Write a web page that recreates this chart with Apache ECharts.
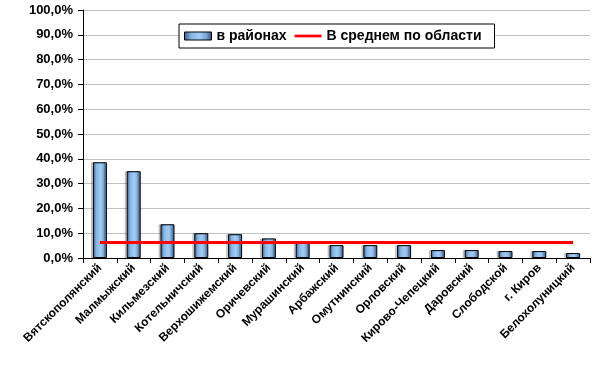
<!DOCTYPE html>
<html><head><meta charset="utf-8">
<script src="https://cdn.jsdelivr.net/npm/echarts@6/dist/echarts.min.js"></script>
<style>html,body{margin:0;padding:0;background:#fff}#c{width:607px;height:374px}</style>
</head><body><div id="c"></div>
<script>
var categories = ['Вятскополянский','Малмыжский','Кильмезский','Котельничский','Верхошижемский','Оричевский','Мурашинский','Арбажский','Омутнинский','Орловский','Кирово-Чепецкий','Даровский','Слободской','г. Киров','Белохолуницкий'];
var districtValues = [38.6, 35.0, 13.6, 10.0, 9.6, 7.9, 6.2, 5.2, 5.2, 5.2, 3.2, 3.2, 2.8, 2.8, 2.0];
var regionAverage = 6.3;
var averageValues = categories.map(function(){ return regionAverage; });
var seriesNames = ['в районах', 'В среднем по области'];

var chart = echarts.init(document.getElementById('c'), null, {renderer:'canvas'});
var barGrad = new echarts.graphic.LinearGradient(0,0,1,0,[
  {offset:0,color:'#34557e'},
  {offset:0.25,color:'#86b6e4'},
  {offset:0.55,color:'#a0cdf6'},
  {offset:0.8,color:'#7aa6d4'},
  {offset:1,color:'#2a4870'}
]);
var FONT = 'Liberation Sans, Arial, sans-serif';
chart.setOption({
  animation:false,
  textStyle:{fontFamily:FONT},
  grid:{left:83,right:17,top:10,bottom:116,containLabel:false},
  legend:{
    top:24,left:179,
    padding:[5,13,5,5],
    borderColor:'#000',borderWidth:1,backgroundColor:'#fff',
    itemGap:8,itemWidth:27,itemHeight:8,
    textStyle:{fontWeight:'bold',fontSize:14,color:'#000',fontFamily:FONT},
    data:[
      {name:seriesNames[0],icon:'rect',itemStyle:{color:barGrad,borderColor:'#000',borderWidth:1}},
      {name:seriesNames[1],icon:'path://M0,0 L30,0 L30,3 L0,3 Z',itemStyle:{color:'#ff0000',borderWidth:0}}
    ]
  },
  xAxis:{
    type:'category',data:categories,boundaryGap:true,
    axisLine:{lineStyle:{color:'#000',width:1}},
    axisTick:{show:true,alignWithLabel:false,length:5,lineStyle:{color:'#000'}},
    axisLabel:{rotate:45,interval:0,fontSize:12,fontWeight:'bold',color:'#000',margin:8,fontFamily:FONT},
    splitLine:{show:false}
  },
  yAxis:{
    type:'value',min:0,max:100,interval:10,
    axisLine:{show:true,lineStyle:{color:'#000'}},
    axisTick:{show:true,length:5,lineStyle:{color:'#000'}},
    axisLabel:{fontSize:13,fontWeight:'bold',color:'#000',margin:10,fontFamily:FONT,
      formatter:function(v){return v.toFixed(1).replace('.',',')+'%';}},
    splitLine:{show:true,lineStyle:{color:'#c0c0c0',width:1}}
  },
  series:[
    {name:seriesNames[0],type:'bar',data:districtValues,barWidth:14,
     itemStyle:{color:barGrad,borderColor:'#000',borderWidth:1,shadowColor:'rgba(0,0,0,0.18)',shadowOffsetX:-2,shadowBlur:0},
     z:2},
    {name:seriesNames[1],type:'line',data:averageValues,symbol:'none',
     lineStyle:{color:'#ff0000',width:3},itemStyle:{color:'#ff0000'},z:3}
  ]
});
</script></body></html>
